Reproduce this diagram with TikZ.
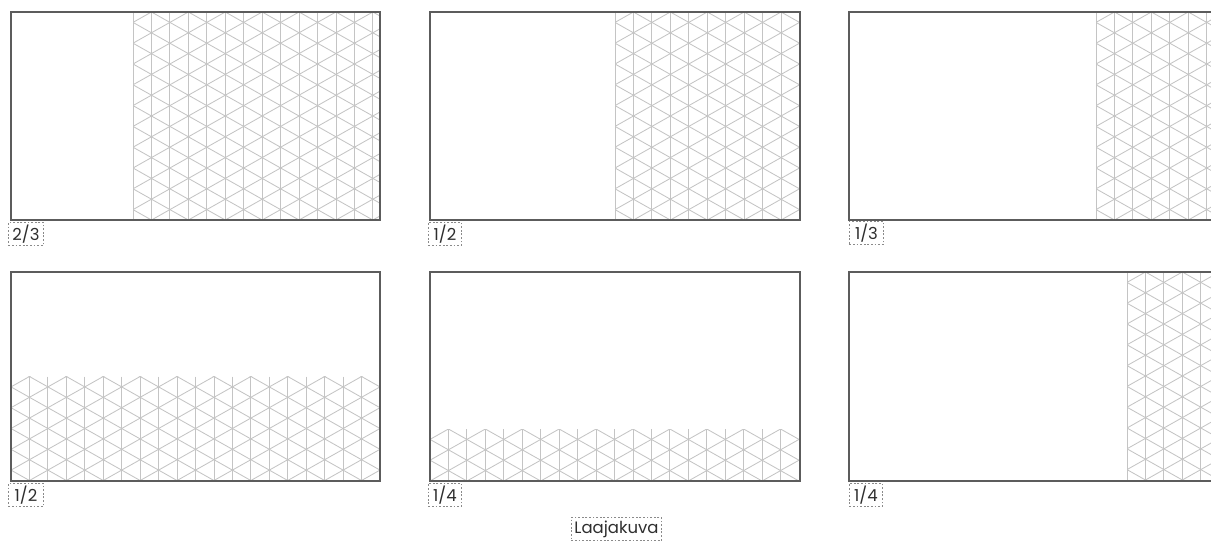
\documentclass[tikz,border=0pt]{standalone}
\usepackage{fontspec}
\setmainfont{Poppins}
\definecolor{framec}{HTML}{5C5C5C}
\definecolor{gridc}{HTML}{C4C4C4}
\definecolor{lblc}{HTML}{2E2E2E}
\definecolor{dashc}{HTML}{8A8A8A}
\tikzset{
  panel/.style={draw=framec, line width=1.1pt},
  gridline/.style={draw=gridc, line width=0.85pt},
  tag/.style={draw=dashc, dash pattern=on 1.8pt off 1.8pt, line width=0.9pt,
    inner sep=0pt, minimum height=23pt, anchor=north west, text=lblc,
    font=\fontsize{16.5}{18}\selectfont},
}
\newcommand\isogrid[4]{%
  \begin{scope}
    \clip (#1,#2) rectangle (#3,#4);
    \foreach \i in {0,...,20}
      \draw[gridline] ({#1+\i*18.45},#2) -- ({#1+\i*18.45},#4);
    \foreach \k in {-10,...,11}
      \draw[gridline] ({#1-18.45},{#2+(\k-1)*20.8}) -- ({#1+21*18.45},{#2+(\k+10)*20.8});
    \foreach \k in {-1,...,21}
      \draw[gridline] ({#1-18.45},{#2+(\k+1)*20.8}) -- ({#1+21*18.45},{#2+(\k-10)*20.8});
  \end{scope}}
\begin{document}
\begin{tikzpicture}[x=1pt,y=-1pt]
  \useasboundingbox (0,0) rectangle (1211,541);
  \clip (0,0) rectangle (1211,541);
  % grids
  \isogrid{133}{12}{380}{220}
  \isogrid{615}{12}{800}{220}
  \isogrid{1096}{12}{1219}{220}
  \isogrid{11}{376.5}{380}{481}
  \isogrid{430}{429}{800}{481}
  \isogrid{1127}{272}{1219}{481}
  % panels
  \draw[panel] (11,12) rectangle (380,220);
  \draw[panel] (430,12) rectangle (800,220);
  \draw[panel] (849,12) rectangle (1222,220);
  \draw[panel] (11,272) rectangle (380,481);
  \draw[panel] (430,272) rectangle (800,481);
  \draw[panel] (849,272) rectangle (1222,481);
  % tags
  \node[tag, minimum width=35pt] (t1) at (8,222) {2/3};
  \node[tag, minimum width=33pt] (t2) at (428,222) {1/2};
  \node[tag, minimum width=34pt] (t3) at (849,221) {1/3};
  \node[tag, minimum width=35pt] (t4) at (8,483) {1/2};
  \node[tag, minimum width=33pt] (t5) at (428,483) {1/4};
  \node[tag, minimum width=33pt] (t6) at (849,483) {1/4};
  \node[tag, minimum width=90pt] (cap) at (571,517) {Laajakuva};
\end{tikzpicture}
\end{document}
